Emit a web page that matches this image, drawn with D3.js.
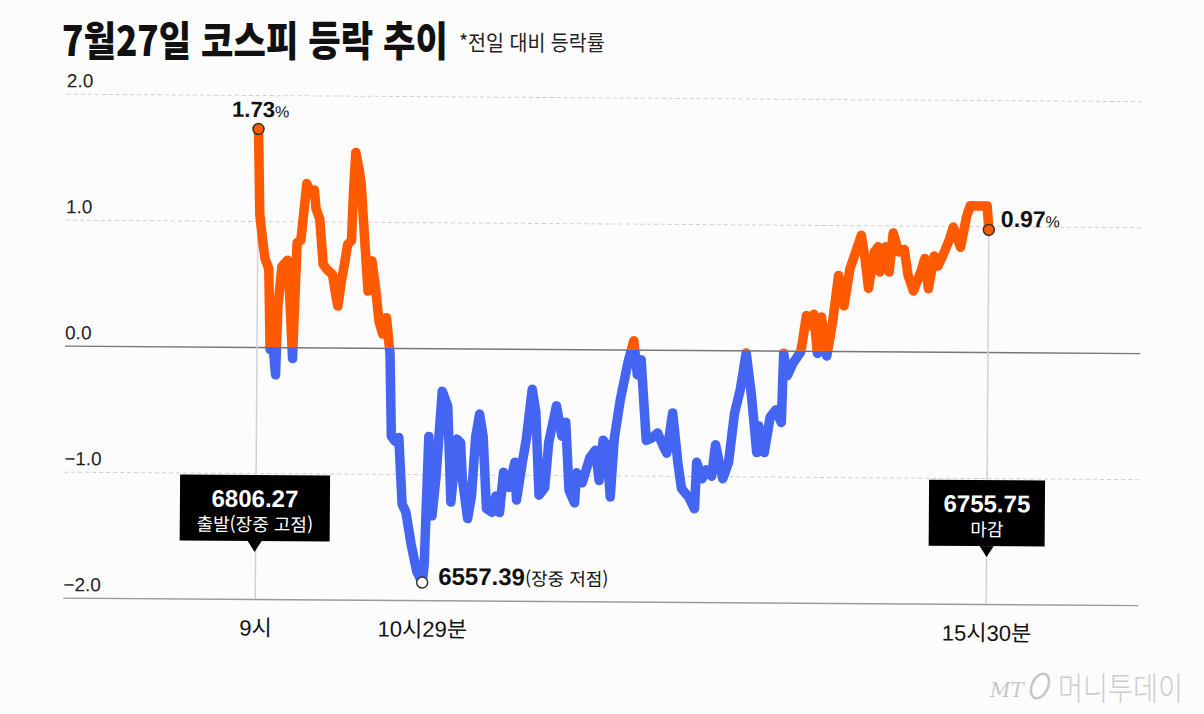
<!DOCTYPE html>
<html lang="ko">
<head>
  <meta charset="utf-8">
  <title>7월27일 코스피 등락 추이</title>
  <script src="https://d3js.org/d3.v7.min.js"></script>
  <style>
    body { margin: 0; background: #fcfcfc; }
  </style>
</head>
<body>
<script type="text/javascript">

  // minutes after 9:00 and change vs previous close (%)
  var minutes = [0, 1, 3, 4, 6, 7, 8, 10, 11, 13, 16, 17, 19, 21, 23, 26, 28, 30, 31, 33,
    35, 37, 40, 42, 43, 45, 46, 48, 50, 51, 52, 54, 55, 57, 59, 61, 63, 65, 67, 68,
    69, 71, 72, 74, 76, 78, 80, 83, 86, 89, 90, 92, 94, 96, 99, 102, 104, 107, 109, 110,
    113, 115, 117, 119, 121, 123, 126, 128, 130, 132, 135, 138, 139, 142, 144, 147, 149, 151, 154, 156,
    160, 163, 165, 167, 170, 171, 174, 178, 181, 183, 185, 187, 189, 191, 194, 198, 201, 203, 205, 208, 211,
    214, 217, 219, 222, 225, 227, 231, 234, 235, 238, 240, 243, 245, 249, 252, 255, 258, 261, 264, 267,
    268, 271, 274, 277, 280, 281, 283, 286, 290, 291, 293, 295, 297, 299, 301, 304, 307, 310, 313, 316,
    322, 324, 326, 329, 331, 332, 335, 337, 339, 342, 345, 347, 350, 354, 356, 358, 361, 363, 366, 369,
    371, 375, 378, 380, 389, 390];
  var changes = [1.73, 1.05, 0.80, 0.70, 0.62, -0.02, 0.10, -0.22, 0.32, 0.64, 0.69, 0.48, -0.09, 0.83, 0.85, 1.30, 1.22, 1.25, 1.10, 1.02,
    0.66, 0.62, 0.58, 0.40, 0.33, 0.55, 0.63, 0.82, 0.85, 1.27, 1.55, 1.40, 1.30, 0.87, 0.45, 0.69, 0.48, 0.21, 0.11, 0.20,
    0.24, -0.05, -0.70, -0.74, -0.71, -1.24, -1.30, -1.56, -1.77, -1.86, -1.72, -0.70, -1.33, -1.02, -0.34, -0.46, -1.22, -0.72, -0.75, -1.03,
    -1.35, -1.17, -0.70, -0.52, -0.70, -1.27, -1.30, -1.17, -1.30, -0.98, -1.10, -0.90, -1.20, -0.90, -0.72, -0.32, -0.50, -1.16, -1.10, -0.74,
    -0.45, -0.69, -0.58, -1.12, -1.22, -0.98, -1.06, -0.86, -0.80, -1.04, -0.72, -0.76, -1.17, -0.70, -0.40, -0.10, 0.07, -0.20, -0.08, -0.72, -0.70,
    -0.66, -0.76, -0.82, -0.50, -0.90, -1.10, -1.17, -1.26, -0.89, -1.02, -0.95, -1.00, -0.75, -1.02, -0.89, -0.50, -0.31, -0.02, -0.36, -0.81,
    -0.60, -0.81, -0.53, -0.47, -0.57, -0.02, -0.20, -0.10, -0.01, 0.07, 0.28, 0.20, 0.29, -0.02, 0.27, -0.04, 0.23, 0.60, 0.36, 0.65,
    0.92, 0.74, 0.50, 0.79, 0.83, 0.63, 0.83, 0.63, 0.94, 0.79, 0.81, 0.61, 0.48, 0.64, 0.74, 0.50, 0.76, 0.68, 0.78, 0.89,
    0.99, 0.83, 1.07, 1.16, 1.16, 0.97];

  var yTicks = [2, 1, 0, -1, -2];
  var yTickLabels = ["2.0", "1.0", "0.0", "−1.0", "−2.0"];
  var xTicks = [0, 89, 390];
  var xTickLabels = ["9시", "10시29분", "15시30분"];

  // index values for the call-outs
  var openIndex = "6806.27";
  var lowIndex = "6557.39";
  var closeIndex = "6755.75";
  var lowMinute = 89;

  var width = 1204, height = 714;
  var numFont = "'Liberation Sans', Arial, 'Noto Sans CJK KR', sans-serif";
  var korFont = "'Noto Sans CJK KR', 'Liberation Sans', sans-serif";

  var svg = d3.select("body")
              .append("svg")
              .attr("width", width)
              .attr("height", height)
              .style("background", "#fcfcfc");

  // Title (squeezed like the condensed original)
  svg.append("text")
     .attr("transform", "translate(62,56) scale(0.86,1)")
     .attr("font-family", korFont)
     .attr("font-weight", 900)
     .attr("font-size", 41)
     .attr("fill", "#111")
     .text("7월27일 코스피 등락 추이");

  svg.append("text")
     .attr("transform", "translate(459,50) scale(0.93,1)")
     .attr("font-family", korFont)
     .attr("font-size", 21)
     .attr("fill", "#222")
     .text("*전일 대비 등락률");

  // scales
  var x = d3.scaleLinear().domain([0, 390]).range([257, 988]);
  var y = d3.scaleLinear().domain([-2, 2]).range([599, 95]);

  // the printed chart is a little tilted
  var g = svg.append("g")
             .attr("transform", "rotate(0.4," + x(0) + "," + y(0) + ")");

  // y gridlines and labels
  var yAxis = d3.axisRight(y)
                .tickValues(yTicks)
                .tickSize(1075)
                .tickFormat(function(d, i) { return yTickLabels[i]; });

  var yg = g.append("g")
            .attr("transform", "translate(65,0)")
            .call(yAxis);
  yg.select(".domain").remove();
  yg.selectAll(".tick line")
    .attr("stroke", function(d) { return d === 0 ? "#777" : (d === -2 ? "#9a9a9a" : "#cfcfcf"); })
    .attr("stroke-width", function(d) { return d === 0 || d === -2 ? 1.4 : 1; })
    .attr("stroke-dasharray", function(d) { return d === 0 || d === -2 ? null : "4,3"; });
  yg.selectAll(".tick text")
    .attr("x", 0)
    .attr("dy", -7)
    .attr("text-anchor", "start")
    .attr("font-family", numFont)
    .attr("font-size", 19)
    .attr("fill", "#222");

  // x labels
  var xAxis = d3.axisBottom(x)
                .tickValues(xTicks)
                .tickSize(0)
                .tickPadding(21)
                .tickFormat(function(d, i) { return xTickLabels[i]; });

  var xg = g.append("g")
            .attr("transform", "translate(0," + y(-2) + ")")
            .call(xAxis);
  xg.select(".domain").remove();
  xg.selectAll(".tick text")
    .attr("font-family", numFont)
    .attr("font-size", 22)
    .attr("fill", "#111");

  // vertical guides at open and close
  var first = changes[0], last = changes[changes.length - 1];
  g.append("line")
   .attr("x1", x(0)).attr("x2", x(0))
   .attr("y1", y(first)).attr("y2", y(-2))
   .attr("stroke", "#d2d2d2")
   .attr("stroke-width", 1.5);
  g.append("line")
   .attr("x1", x(390)).attr("x2", x(390))
   .attr("y1", y(last)).attr("y2", y(-2))
   .attr("stroke", "#d2d2d2")
   .attr("stroke-width", 1.5);

  // line, orange above zero and blue below
  var points = minutes.map(function(m, i) { return { m: m, v: changes[i] }; });
  var line = d3.line()
               .x(function(d) { return x(d.m); })
               .y(function(d) { return y(d.v); });

  var defs = svg.append("defs");
  defs.append("clipPath").attr("id", "above")
      .append("rect").attr("x", 0).attr("y", 0).attr("width", width).attr("height", y(0));
  defs.append("clipPath").attr("id", "below")
      .append("rect").attr("x", 0).attr("y", y(0)).attr("width", width).attr("height", height);

  g.append("path")
   .datum(points)
   .attr("clip-path", "url(#below)")
   .attr("d", line)
   .attr("fill", "none")
   .attr("stroke", "#4465f2")
   .attr("stroke-width", 9.5)
   .attr("stroke-linejoin", "round")
   .attr("stroke-linecap", "round");

  g.append("path")
   .datum(points)
   .attr("clip-path", "url(#above)")
   .attr("d", line)
   .attr("fill", "none")
   .attr("stroke", "#ff5a00")
   .attr("stroke-width", 9.5)
   .attr("stroke-linejoin", "round")
   .attr("stroke-linecap", "round");

  // markers
  var lowValue = changes[minutes.indexOf(lowMinute)];
  var marks = [
    { m: 0, v: first, fill: "#ff5a00" },
    { m: lowMinute, v: lowValue, fill: "#fff" },
    { m: 390, v: last, fill: "#ff5a00" }
  ];
  g.selectAll("circle.mark")
   .data(marks)
   .enter()
   .append("circle")
   .attr("class", "mark")
   .attr("cx", function(d) { return x(d.m); })
   .attr("cy", function(d) { return y(d.v); })
   .attr("r", 5.5)
   .attr("fill", function(d) { return d.fill; })
   .attr("stroke", "#333")
   .attr("stroke-width", 1.5);

  // percent labels
  var t1 = g.append("text")
            .attr("x", x(0) + 2)
            .attr("y", y(first) - 12)
            .attr("text-anchor", "middle")
            .attr("font-family", numFont)
            .attr("fill", "#111");
  t1.append("tspan").attr("font-size", 22).attr("font-weight", 700).text(first.toFixed(2));
  t1.append("tspan").attr("font-size", 16).text("%");

  var t2 = g.append("text")
            .attr("x", x(390) + 12)
            .attr("y", y(last) - 3)
            .attr("font-family", numFont)
            .attr("fill", "#111");
  t2.append("tspan").attr("font-size", 23).attr("font-weight", 700).text(last.toFixed(2));
  t2.append("tspan").attr("font-size", 16).text("%");

  var t3 = g.append("text")
            .attr("x", x(lowMinute) + 16)
            .attr("y", y(lowValue) + 2)
            .attr("font-family", numFont)
            .attr("fill", "#111");
  t3.append("tspan").attr("font-size", 24).attr("font-weight", 700).text(lowIndex);
  t3.append("tspan").attr("font-family", korFont).attr("font-size", 18).text("(장중 저점)");

  // black call-out boxes
  function callout(cx, w, big, small) {
    var top = 475, bottom = 541;
    g.append("rect")
     .attr("x", cx - w / 2).attr("y", top)
     .attr("width", w).attr("height", bottom - top)
     .attr("fill", "#000");
    g.append("path")
     .attr("d", "M" + (cx - 7) + "," + bottom + "L" + (cx + 7) + "," + bottom + "L" + cx + "," + (bottom + 11) + "Z")
     .attr("fill", "#000");
    g.append("text")
     .attr("x", cx).attr("y", 507)
     .attr("text-anchor", "middle")
     .attr("font-family", numFont)
     .attr("font-weight", 700)
     .attr("font-size", 24)
     .attr("fill", "#fff")
     .text(big);
    g.append("text")
     .attr("x", cx).attr("y", 531)
     .attr("text-anchor", "middle")
     .attr("font-family", korFont)
     .attr("font-size", 18)
     .attr("fill", "#fff")
     .text(small);
  }
  callout(x(0) - 1, 150, openIndex, "출발(장중 고점)");
  callout(x(390), 116, closeIndex, "마감");

  // watermark
  svg.append("text")
     .attr("x", 990).attr("y", 697)
     .attr("font-family", "'DejaVu Serif', serif")
     .attr("font-style", "italic")
     .attr("font-size", 20)
     .attr("fill", "#c6c6c6")
     .text("MT");
  svg.append("ellipse")
     .attr("cx", 1040).attr("cy", 686)
     .attr("rx", 8).attr("ry", 13)
     .attr("transform", "rotate(25,1040,686)")
     .attr("fill", "none")
     .attr("stroke", "#c6c6c6")
     .attr("stroke-width", 2.5);
  svg.append("text")
     .attr("transform", "translate(1058,700) scale(0.85,1)")
     .attr("font-family", korFont)
     .attr("font-weight", 300)
     .attr("font-size", 32)
     .attr("fill", "#cdcdcd")
     .text("머니투데이");

</script>
</body>
</html>
